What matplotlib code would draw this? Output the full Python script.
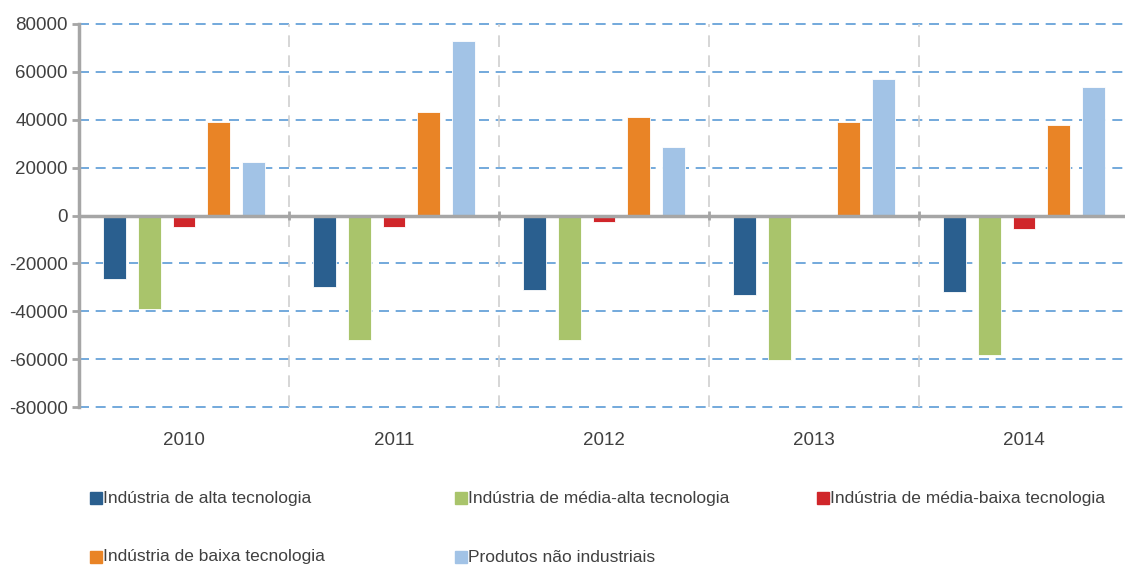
import numpy as np
import matplotlib.pyplot as plt
from matplotlib.patches import Rectangle

years = ['2010', '2011', '2012', '2013', '2014']
series_names = ['Indústria de alta tecnologia',
                'Indústria de média-alta tecnologia',
                'Indústria de média-baixa tecnologia',
                'Indústria de baixa tecnologia',
                'Produtos não industriais']
alta = [-26700, -30000, -31000, -33100, -32000]
media_alta = [-39200, -52000, -52000, -60300, -58200]
media_baixa = [-4900, -4800, -2700, -600, -5800]
baixa = [39100, 43400, 41200, 39100, 38000]
nao_industriais = [22400, 72700, 28700, 57000, 53500]
y_ticks = [-80000, -60000, -40000, -20000, 0, 20000, 40000, 60000, 80000]

colors = ['#2A5F8F', '#A9C46B', '#D0262A', '#E98426', '#A2C3E6']
text_color = '#404040'

plt.rcParams['font.family'] = ['Liberation Sans', 'DejaVu Sans']

fig = plt.figure(figsize=(11.25, 5.67), dpi=100)
ax = fig.add_axes([79 / 1125, 1 - 407 / 567, 1050 / 1125, 383 / 567])

data = [alta, media_alta, media_baixa, baixa, nao_industriais]
x = np.arange(len(years))
step = 0.165
width = 0.107
for i, vals in enumerate(data):
    ax.bar(x + (i - 2) * step, vals, width, color=colors[i],
           edgecolor='white', linewidth=0.6, zorder=3)

ax.set_xlim(-0.5, len(years) - 0.5)
ax.set_ylim(-80000, 80000)
ax.set_yticks(y_ticks)
ax.set_yticklabels([str(v) for v in y_ticks], fontsize=13.5, color=text_color)
ax.set_xticks(x)
ax.set_xticklabels(years, fontsize=13.5, color=text_color)
ax.tick_params(axis='x', length=0, pad=18)
ax.tick_params(axis='y', length=5, width=2, color='#A6A6A6', pad=3)

# grid
for v in y_ticks:
    if v != 0:
        ax.axhline(v, color='#5B9BD5', linewidth=1.2, linestyle=(0, (6, 4)),
                   zorder=1, clip_on=False)
for b in x[:-1] + 0.5:
    ax.axvline(b, color='#CFCFCF', linewidth=1.2, linestyle=(0, (7, 5)), zorder=1)
    ax.vlines(b, -1800, 1800, color='#A6A6A6', linewidth=2, zorder=4)
ax.axhline(0, color='#A6A6A6', linewidth=2.5, zorder=4)

for s in ['top', 'right', 'bottom']:
    ax.spines[s].set_visible(False)
ax.spines['left'].set_color('#A6A6A6')
ax.spines['left'].set_linewidth(2.5)
ax.spines['left'].set_zorder(5)

# legend laid out in 3 columns, row by row
col_x = [90, 455, 817]
row_y = [498, 557]
for i, name in enumerate(series_names):
    px = col_x[i % 3]
    py = row_y[i // 3]
    fig.add_artist(Rectangle((px / 1125, 1 - (py + 6) / 567), 12 / 1125, 12 / 567,
                             transform=fig.transFigure, color=colors[i]))
    fig.text((px + 13) / 1125, 1 - py / 567, name, fontsize=12.5,
             color=text_color, va='center', ha='left')

fig.savefig('out.png', dpi=100)
